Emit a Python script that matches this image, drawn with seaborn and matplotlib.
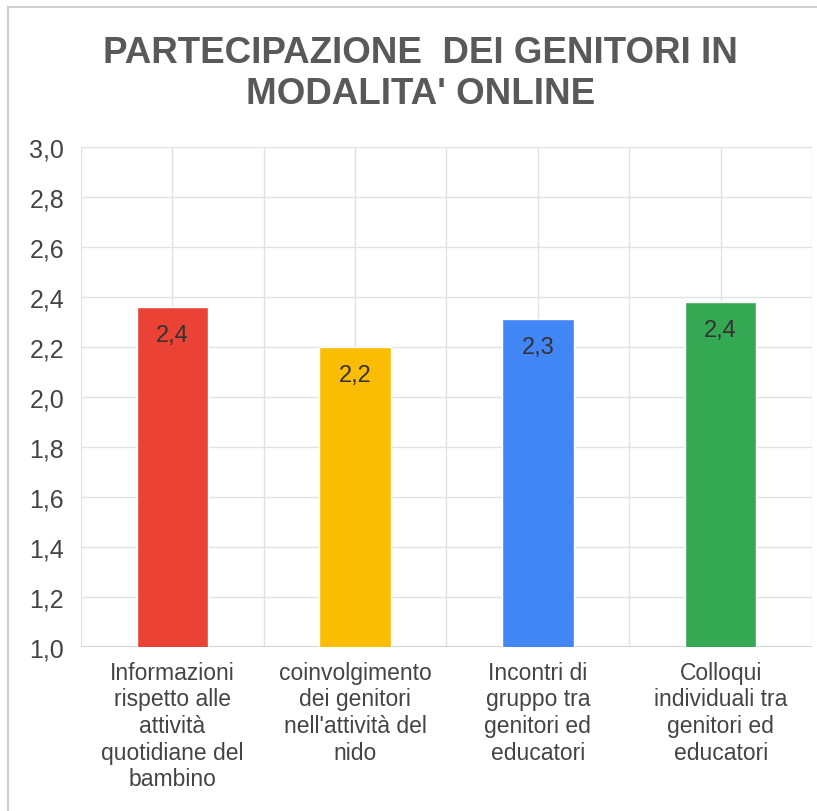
import numpy as np
import pandas as pd
import seaborn as sns
import matplotlib.pyplot as plt
from matplotlib.ticker import FuncFormatter, MultipleLocator
from matplotlib.patches import Rectangle

categorie = ["Informazioni\nrispetto alle\nattività\nquotidiane del\nbambino",
             "coinvolgimento\ndei genitori\nnell'attività del\nnido",
             "Incontri di\ngruppo tra\ngenitori ed\neducatori",
             "Colloqui\nindividuali tra\ngenitori ed\neducatori"]
valori = [2.36, 2.20, 2.31, 2.38]
colori = ["#EA4335", "#FBBC04", "#4285F4", "#34A853"]
titolo = "PARTECIPAZIONE  DEI GENITORI IN\nMODALITA' ONLINE"

sns.set_theme(style="white")
plt.rcParams['font.family'] = ['Liberation Sans', 'DejaVu Sans']

df = pd.DataFrame({"cat": categorie, "val": valori})
fig = plt.figure(figsize=(8.17, 8.12), dpi=100)
ax = fig.add_axes([0.099, 0.202, 0.895, 0.616])
sns.barplot(data=df, x="cat", y="val", hue="cat", palette=colori, legend=False,
            width=0.39, saturation=1, ax=ax, zorder=3)

ax.set_ylim(1.0, 3.0)
ax.set_xlim(-0.5, 3.5)
ax.yaxis.set_major_locator(MultipleLocator(0.2))
ax.yaxis.set_major_formatter(FuncFormatter(lambda v, p: f"{v:.1f}".replace('.', ',')))
ax.set_xticks(range(4))
ax.set_xticks(np.arange(-0.5, 4, 1), minor=True)
ax.grid(True, which='both', color='#e2e2e2', linewidth=1, zorder=0)
ax.set_axisbelow(True)
for s in ax.spines.values():
    s.set_visible(False)
ax.axhline(1.0, color='#cccccc', linewidth=1.2, zorder=2)
ax.tick_params(axis='both', which='both', length=0, labelcolor='#444444')
ax.tick_params(axis='y', labelsize=18, pad=12)
ax.tick_params(axis='x', labelsize=16.5, pad=10)
ax.set_xlabel("")
ax.set_ylabel("")

for i, v in enumerate(valori):
    ax.annotate(f"{v:.1f}".replace('.', ','), (i, v), xytext=(0, -12), textcoords='offset points',
                ha='center', va='top', fontsize=17, color='#333333', zorder=4)

fig.text(0.515, 0.909, titolo, ha='center', va='center', fontsize=26.5, fontweight='bold',
         color='#595959', linespacing=1.2)

fig.patches.append(Rectangle((0.01, -0.1), 1.1, 1.09, transform=fig.transFigure,
                             fill=False, edgecolor='#d0d0d0', linewidth=1.5))

fig.savefig("out.png", dpi=100)
